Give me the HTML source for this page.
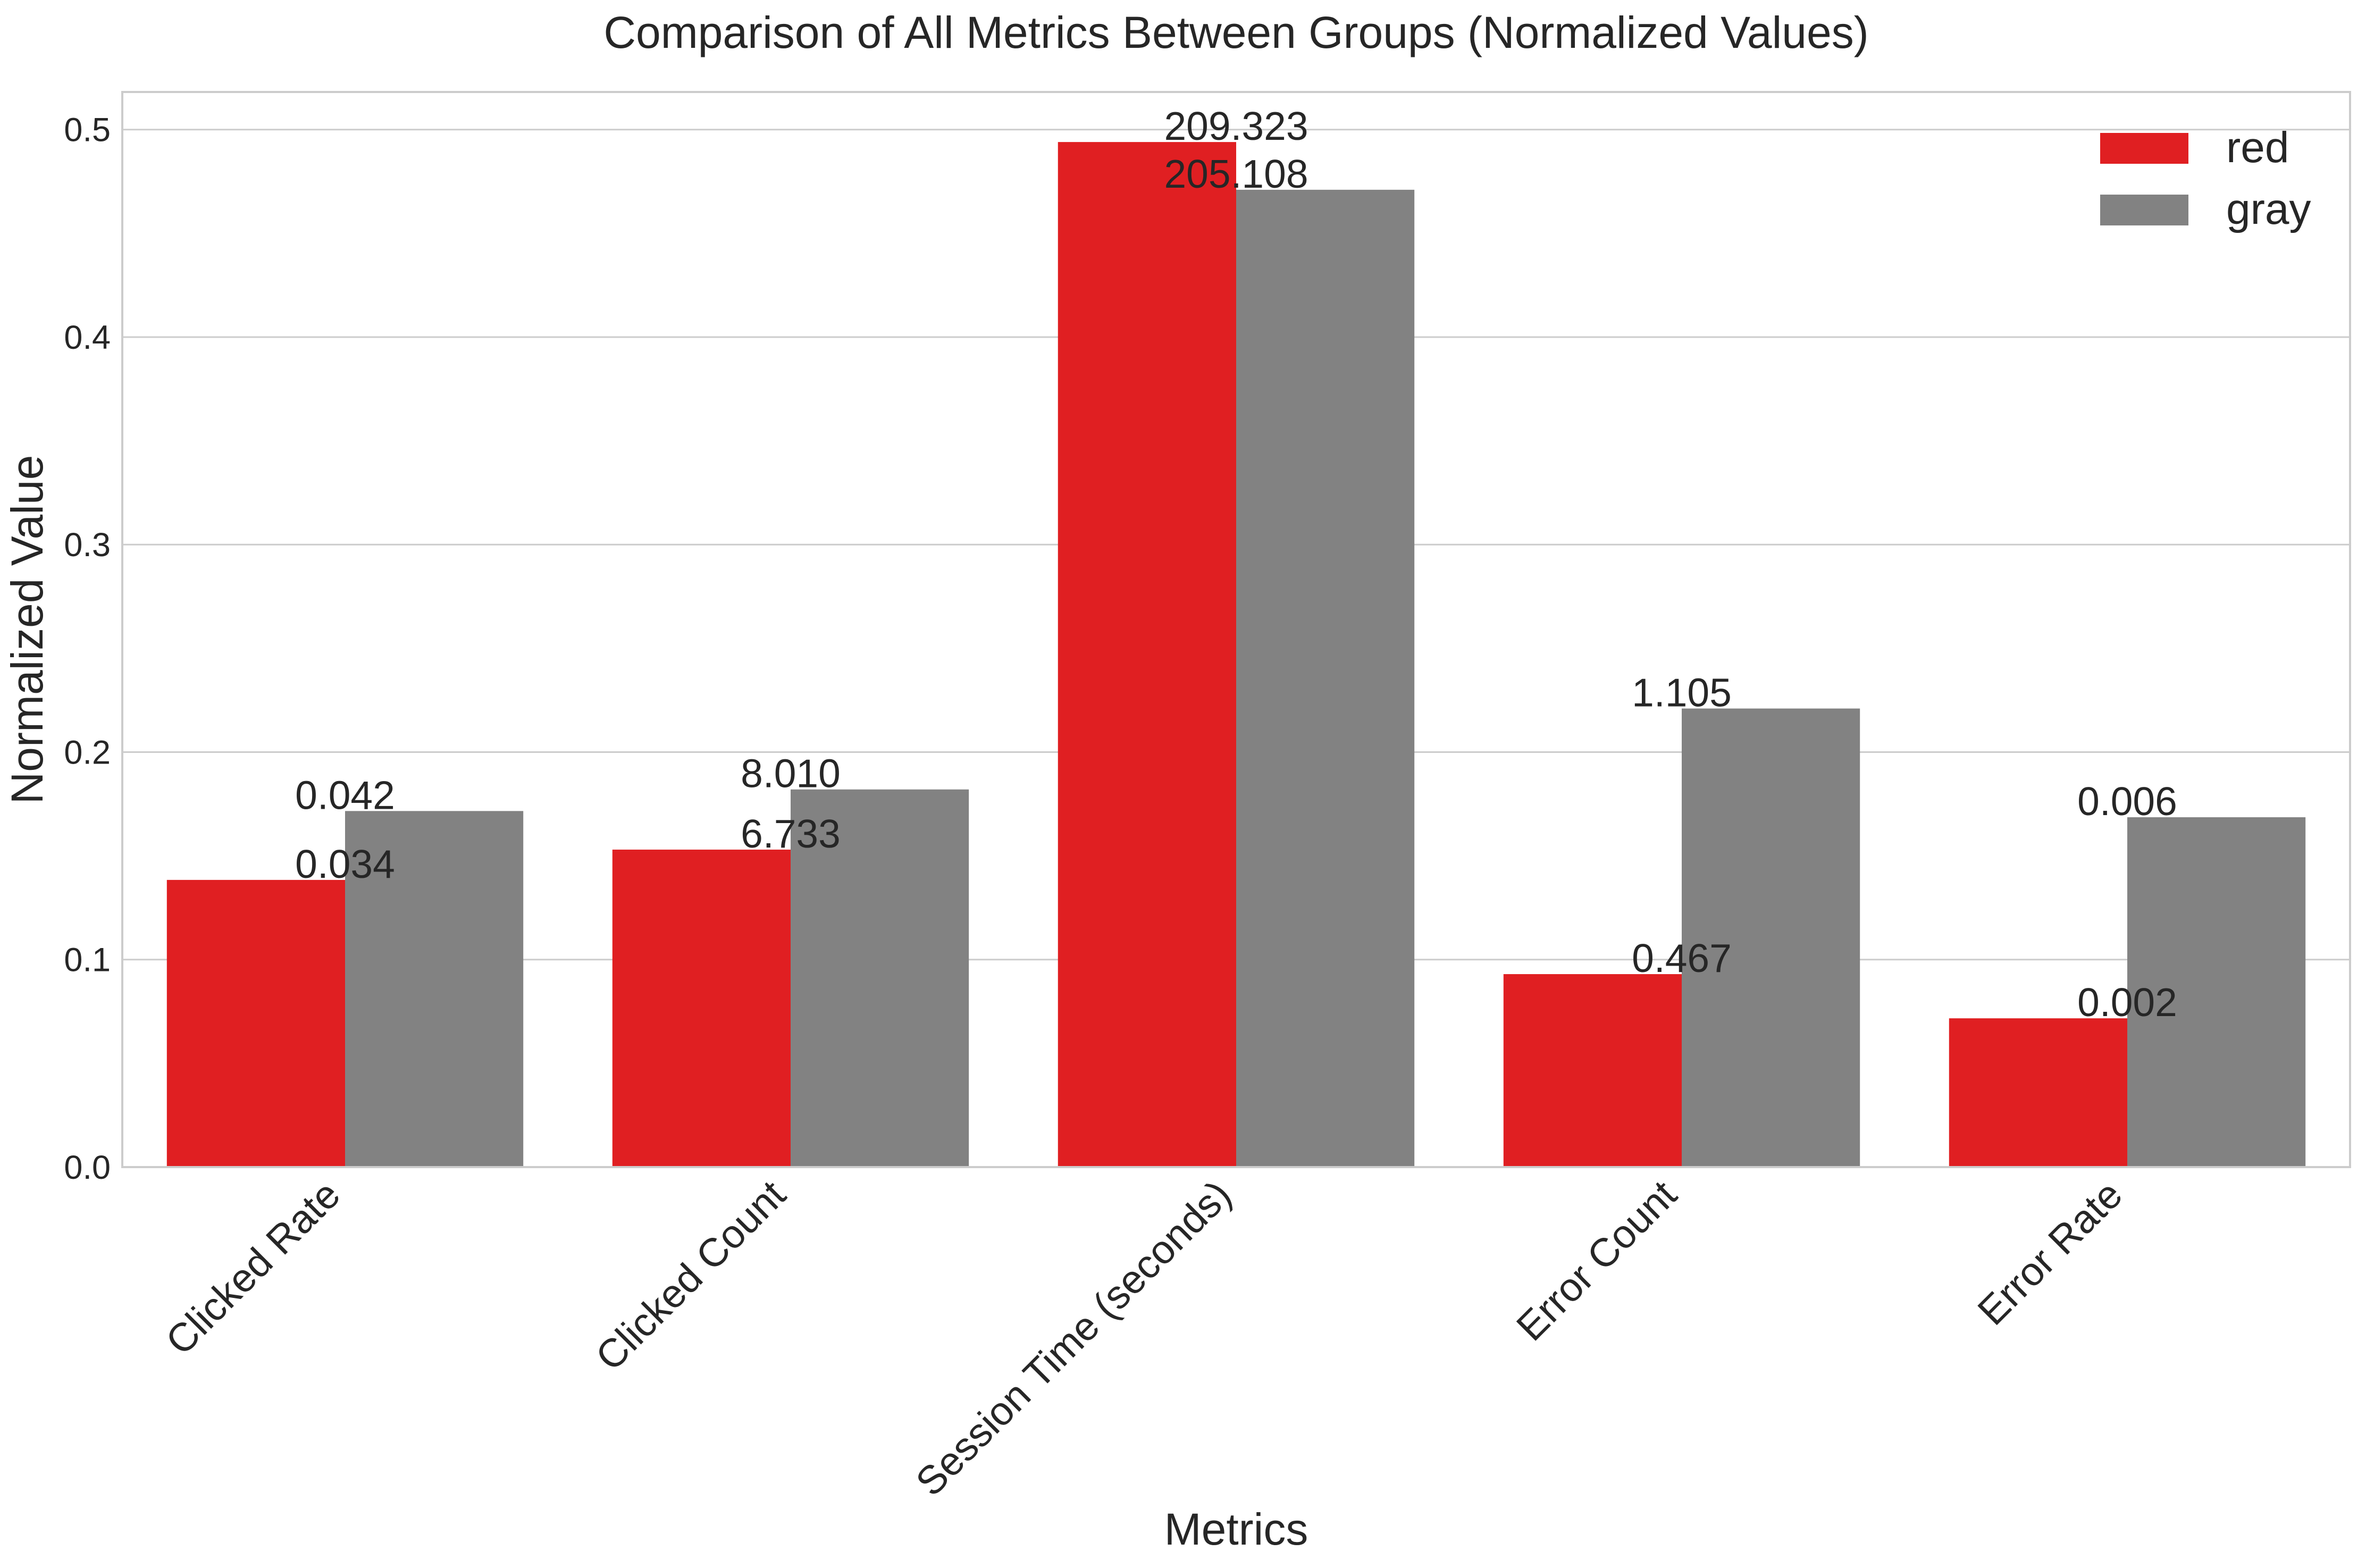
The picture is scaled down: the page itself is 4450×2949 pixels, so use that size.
<!DOCTYPE html>
<html><head><meta charset="utf-8"><style>
html,body{margin:0;padding:0;background:#fff;}
svg{display:block;font-family:"Liberation Sans",Arial,sans-serif;}
</style></head>
<body>
<svg id="chart" width="4450" height="2949" viewBox="0 0 4450 2949" xmlns="http://www.w3.org/2000/svg">
<rect width="4450" height="2949" fill="#fff"/>
<g id="grid"></g>
<g id="bars"></g>
<g id="labels"></g>
<g id="axes"></g>
</svg>
<script>
const categories = ["Clicked Rate","Clicked Count","Session Time (seconds)","Error Count","Error Rate"];
const redValues = [0.1384, 0.153, 0.494, 0.093, 0.0717];
const grayValues = [0.1716, 0.182, 0.471, 0.221, 0.1686];
const redLabels = ["0.034","6.733","209.323","0.467","0.002"];
const grayLabels = ["0.042","8.010","205.108","1.105","0.006"];
const yTicks = [0.0, 0.1, 0.2, 0.3, 0.4, 0.5];
const yTickLabels = ["0.0","0.1","0.2","0.3","0.4","0.5"];

const NS = "http://www.w3.org/2000/svg";
const L = 230, R = 4420, T = 173, B = 2195;
const yMax = 0.5 * (B - T) / (B - 243.7);
function yScale(v){ return B - v / yMax * (B - T); }
function xScale(i){ return L + (i + 0.5) / categories.length * (R - L); }
const unit = (R - L) / categories.length;
const barW = unit * 0.4;

function mk(tag, attrs, parent, text){
  const e = document.createElementNS(NS, tag);
  for (const k in attrs) e.setAttribute(k, attrs[k]);
  if (text !== undefined) e.textContent = text;
  parent.appendChild(e);
  return e;
}
const grid = document.getElementById('grid');
const bars = document.getElementById('bars');
const labels = document.getElementById('labels');
const axes = document.getElementById('axes');

yTicks.forEach((t, i) => {
  const y = yScale(t);
  const g = mk('line', {x1:L, x2:R, y1:y, y2:y, stroke:'#cccccc', 'stroke-width':3}, grid);
  
  
  const tl = mk('text', {x:L-22, y:y+22, 'text-anchor':'end', 'font-size':63, fill:'#262626'}, axes, yTickLabels[i]);
  
  
});

categories.forEach((c, i) => {
  const cx = xScale(i);
  const rb = mk('rect', {x:cx-barW, y:yScale(redValues[i]), width:barW, height:B-yScale(redValues[i]), fill:'#e01f22'}, bars);
  
  
  const gb = mk('rect', {x:cx, y:yScale(grayValues[i]), width:barW, height:B-yScale(grayValues[i]), fill:'#828282'}, bars);
  
  
  const rl = mk('text', {x:cx, y:yScale(redValues[i])-4, 'text-anchor':'middle', 'font-size':75, fill:'#262626'}, labels, redLabels[i]);
  
  
  const gl = mk('text', {x:cx, y:yScale(grayValues[i])-4, 'text-anchor':'middle', 'font-size':75, fill:'#262626'}, labels, grayLabels[i]);
  
  
  const px = cx - 5, py = 2252;
  const xl = mk('text', {x:px, y:py, 'text-anchor':'end', 'font-size':75, fill:'#262626', transform:`rotate(-45 ${px} ${py})`}, axes, c);
  
  
});

const frame = mk('rect', {x:L, y:T, width:R-L, height:B-T, fill:'none', stroke:'#cccccc', 'stroke-width':4}, axes);



const title = mk('text', {x:(L+R)/2, y:90, 'text-anchor':'middle', 'font-size':84, fill:'#262626'}, axes, 'Comparison of All Metrics Between Groups (Normalized Values)');


const xt = mk('text', {x:(L+R)/2, y:2905, 'text-anchor':'middle', 'font-size':84, fill:'#262626'}, axes, 'Metrics');


const yt = mk('text', {x:0, y:0, 'text-anchor':'middle', 'font-size':84, fill:'#262626', transform:`translate(80 ${(T+B)/2}) rotate(-90)`}, axes, 'Normalized Value');



const leg = mk('g', {}, axes);


const lr = mk('rect', {x:3950, y:250, width:166, height:58, fill:'#e01f22'}, leg);


const lrt = mk('text', {x:4187, y:305, 'font-size':82, fill:'#262626'}, leg, 'red');


const lg = mk('rect', {x:3950, y:366, width:166, height:58, fill:'#828282'}, leg);


const lgt = mk('text', {x:4187, y:421, 'font-size':82, fill:'#262626'}, leg, 'gray');


</script>
</body></html>
